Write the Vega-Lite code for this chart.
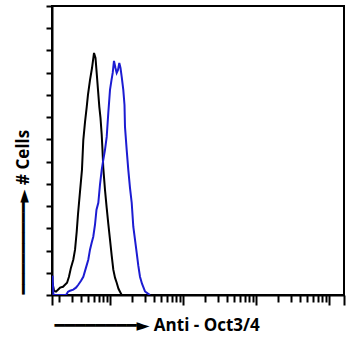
{
  "$schema": "https://vega.github.io/schema/vega-lite/v6.json",
  "width": 292,
  "height": 289,
  "autosize": "none",
  "padding": {"left": 52, "top": 6, "right": 6, "bottom": 55},
  "background": "white",
  "config": {"view": {"stroke": "#000000", "strokeWidth": 2}},
  "data": {"values": [
    {"s":"ctrl","x":1.63,"y":5.5},{"s":"ctrl","x":1.71,"y":1.9},{"s":"ctrl","x":1.82,"y":1.5},{"s":"ctrl","x":1.94,"y":2.4},
    {"s":"ctrl","x":2.07,"y":3.3},{"s":"ctrl","x":2.27,"y":3.7},{"s":"ctrl","x":2.42,"y":4.6},{"s":"ctrl","x":2.58,"y":5.5},
    {"s":"ctrl","x":2.74,"y":8.2},{"s":"ctrl","x":2.92,"y":12.3},{"s":"ctrl","x":3.14,"y":15.9},{"s":"ctrl","x":3.32,"y":20.4},
    {"s":"ctrl","x":3.5,"y":28.5},{"s":"ctrl","x":3.64,"y":36.1},{"s":"ctrl","x":3.88,"y":46.4},{"s":"ctrl","x":4.13,"y":56.3},
    {"s":"ctrl","x":4.31,"y":69.8},{"s":"ctrl","x":4.55,"y":77.9},{"s":"ctrl","x":4.8,"y":84.6},{"s":"ctrl","x":4.99,"y":90.0},
    {"s":"ctrl","x":5.32,"y":96.7},{"s":"ctrl","x":5.67,"y":102.1},{"s":"ctrl","x":6.04,"y":108.9},{"s":"ctrl","x":6.33,"y":106.6},
    {"s":"ctrl","x":6.57,"y":99.9},{"s":"ctrl","x":6.85,"y":92.3},{"s":"ctrl","x":7.14,"y":84.6},{"s":"ctrl","x":7.41,"y":79.7},
    {"s":"ctrl","x":7.7,"y":72.0},{"s":"ctrl","x":7.89,"y":65.3},{"s":"ctrl","x":8.09,"y":57.2},{"s":"ctrl","x":8.54,"y":47.3},
    {"s":"ctrl","x":9.01,"y":39.2},{"s":"ctrl","x":9.48,"y":32.0},{"s":"ctrl","x":10.0,"y":24.9},{"s":"ctrl","x":10.55,"y":17.7},
    {"s":"ctrl","x":11.1,"y":11.4},{"s":"ctrl","x":11.71,"y":7.8},{"s":"ctrl","x":12.35,"y":5.5},{"s":"ctrl","x":13.07,"y":2.8},
    {"s":"ctrl","x":13.71,"y":1.5},{"s":"ctrl","x":14.47,"y":0},
    {"s":"oct","x":1.63,"y":8.7},{"s":"oct","x":1.68,"y":0},{"s":"oct","x":2.5,"y":0},{"s":"oct","x":2.66,"y":1.5},
    {"s":"oct","x":2.83,"y":1.9},{"s":"oct","x":3.14,"y":2.4},{"s":"oct","x":3.42,"y":3.3},{"s":"oct","x":3.68,"y":4.6},
    {"s":"oct","x":4.01,"y":6.4},{"s":"oct","x":4.31,"y":8.2},{"s":"oct","x":4.69,"y":12.3},{"s":"oct","x":5.04,"y":15.9},
    {"s":"oct","x":5.32,"y":20.4},{"s":"oct","x":5.61,"y":23.5},{"s":"oct","x":5.9,"y":26.2},{"s":"oct","x":6.23,"y":31.6},
    {"s":"oct","x":6.53,"y":38.4},{"s":"oct","x":6.92,"y":41.5},{"s":"oct","x":7.29,"y":49.6},{"s":"oct","x":7.7,"y":56.3},
    {"s":"oct","x":8.09,"y":60.8},{"s":"oct","x":8.54,"y":65.3},{"s":"oct","x":9.01,"y":71.1},{"s":"oct","x":9.48,"y":81.9},
    {"s":"oct","x":10.0,"y":92.3},{"s":"oct","x":10.48,"y":96.7},{"s":"oct","x":10.89,"y":99.9},{"s":"oct","x":11.34,"y":105.3},
    {"s":"oct","x":11.89,"y":102.1},{"s":"oct","x":12.35,"y":99.9},{"s":"oct","x":12.87,"y":101.2},{"s":"oct","x":13.41,"y":104.4},
    {"s":"oct","x":13.93,"y":102.1},{"s":"oct","x":14.47,"y":98.1},{"s":"oct","x":15.21,"y":92.3},{"s":"oct","x":15.8,"y":85.5},
    {"s":"oct","x":16.05,"y":75.6},{"s":"oct","x":16.93,"y":65.3},{"s":"oct","x":17.81,"y":56.3},{"s":"oct","x":18.79,"y":48.2},
    {"s":"oct","x":19.83,"y":41.5},{"s":"oct","x":20.86,"y":30.7},{"s":"oct","x":22.0,"y":24.9},{"s":"oct","x":23.22,"y":19.0},
    {"s":"oct","x":24.42,"y":13.2},{"s":"oct","x":25.76,"y":8.2},{"s":"oct","x":27.44,"y":5.1},{"s":"oct","x":30.17,"y":1.6},
    {"s":"oct","x":33.15,"y":0.6},{"s":"oct","x":35.32,"y":0}
  ]},
  "mark": {"type": "line", "strokeWidth": 2, "clip": true},
  "encoding": {
    "x": {
      "field": "x", "type": "quantitative",
      "scale": {"type": "log", "domain": [1.605, 16054], "nice": false},
      "axis": {
        "values": [1.605,2,3,4,5,6,7,8,9,10,20,30,40,50,60,70,80,90,100,200,300,400,500,600,700,800,900,1000,2000,3000,4000,5000,6000,7000,8000,9000,10000,16054],
        "labels": false, "grid": false,
        "domainColor": "#000000", "domainWidth": 2,
        "tickColor": "#000000", "tickWidth": 2,
        "tickSize": {"condition": {"test": "indexof([1.605,10,100,1000,10000,16054], datum.value) >= 0", "value": 10}, "value": 7},
        "title": "━━━━━━━━► Anti - Oct3/4",
        "titleFont": "Open Sans, DejaVu Sans", "titleFontSize": 17, "titleFontWeight": "bold", "titleColor": "#000000",
        "titleAnchor": "start", "titleAlign": "left", "titleBaseline": "middle",
        "titleX": 2, "titleY": 30
      }
    },
    "y": {
      "field": "y", "type": "quantitative",
      "scale": {"domain": [0, 130], "nice": false},
      "axis": {
        "values": [0,10,20,30,40,50,60,70,80,90,100,110,120,130],
        "labels": false, "grid": false,
        "domainColor": "#000000", "domainWidth": 2,
        "tickColor": "#000000", "tickWidth": 2, "tickSize": 6,
        "title": "━━━━━━━━━► # Cells",
        "titleFont": "Open Sans, DejaVu Sans", "titleFontSize": 17, "titleFontWeight": "bold", "titleColor": "#000000",
        "titleAngle": 270, "titleAnchor": "start", "titleAlign": "left", "titleBaseline": "middle",
        "titleX": -29, "titleY": 288
      }
    },
    "color": {
      "field": "s", "type": "nominal",
      "scale": {"domain": ["ctrl", "oct"], "range": ["#000000", "#1c1cd2"]},
      "legend": null
    }
  }
}
